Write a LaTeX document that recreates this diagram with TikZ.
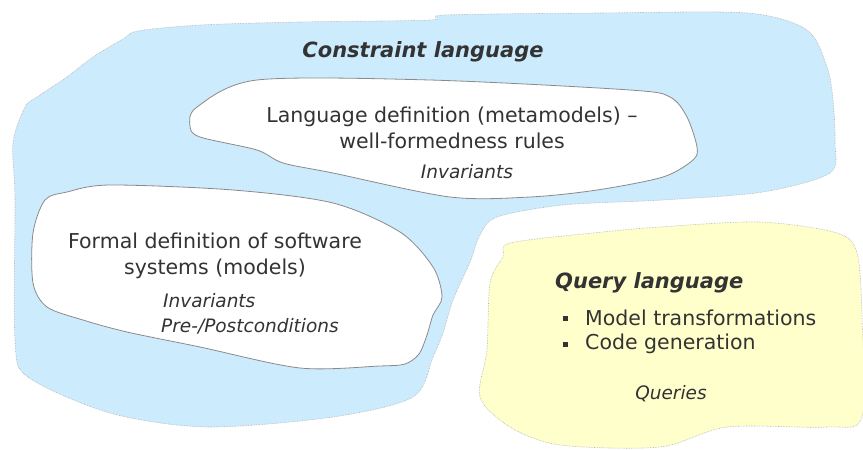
\documentclass[tikz,border=0pt]{standalone}
\usepackage{fontspec}
\setmainfont{DejaVu Sans}
\definecolor{skyfill}{HTML}{CCEBFD}
\definecolor{creamfill}{HTML}{FFFFCC}
\definecolor{edgegray}{HTML}{8A8A8A}
\definecolor{inkgray}{HTML}{333333}
\tikzset{
  region/.style={draw=edgegray!70, line width=0.6pt, densely dotted},
  island/.style={draw=edgegray, fill=white, line width=0.8pt},
  heading/.style={text=inkgray, font=\bfseries\itshape\fontsize{21}{26}\selectfont, inner sep=0pt},
  bodytext/.style={text=inkgray, font=\fontsize{20.5}{26}\selectfont, inner sep=0pt, align=center},
  note/.style={text=inkgray, font=\itshape\fontsize{18.5}{24}\selectfont, inner sep=0pt, align=left},
  bulletmark/.style={fill=inkgray, minimum size=5pt, inner sep=0pt},
}
\begin{document}
\begin{tikzpicture}[x=1pt,y=-1pt]
\useasboundingbox (0,0) rectangle (863,450);

% constraint language area
\def\skyoutline{(138,31) (200,25) (300,22) (430,20) (445,15) (600,13)
  (747,13) (807,30) (827,67) (833,100) (835,143) (830,173) (763,192)
  (663,200) (563,205) (497,217) (480,235) (470,262) (453,300) (443,333)
  (433,357) (413,397) (333,417) (207,427) (110,413) (28,377) (15,340)
  (15,200) (13,143) (25,107) (37,97) (67,77) (93,57) (123,39)}
\fill[skyfill] plot[smooth cycle, tension=0.5] coordinates {\skyoutline};
\draw[region] plot[smooth cycle, tension=0.5] coordinates {\skyoutline};

% query language area
\def\creamoutline{(510,243) (593,233) (660,227) (760,222) (837,233)
  (857,253) (862,317) (862,417) (827,427) (727,427) (660,447) (560,445)
  (510,427) (480,397) (487,350) (490,283) (503,257)}
\fill[creamfill] plot[smooth cycle, tension=0.5] coordinates {\creamoutline};
\draw[region] plot[smooth cycle, tension=0.5] coordinates {\creamoutline};

% metamodel island
\draw[island] plot[smooth cycle, tension=0.5] coordinates {
  (257,80) (430,80) (630,90) (670,97) (687,117) (697,147) (693,160)
  (663,177) (597,190) (530,197) (450,197) (333,173) (283,163) (257,150)
  (200,137) (190,126) (197,107)};

% model island
\draw[island] plot[smooth cycle, tension=0.5] coordinates {
  (45,200) (67,192) (110,185) (233,190) (333,203) (400,232) (433,267)
  (442,297) (433,315) (427,335) (419,354) (405,364) (380,366) (300,368)
  (200,347) (127,332) (83,320) (47,307) (33,283) (33,233)};

% labels
\node[heading] (clang) at (423,52) {Constraint language};
\node[bodytext] (meta) at (452,128) {Language definition (metamodels) –\\well-formedness rules};
\node[note] (metainv) at (467,172) {Invariants};
\node[bodytext] (models) at (215,256) {Formal definition of software\\systems (models)};
\node[note, anchor=west] (modinv) at (163,301) {Invariants};
\node[note, anchor=west] (modpre) at (161,326) {Pre-/Postconditions};
\node[heading, anchor=west] (qlang) at (555,283) {Query language};
\node[bulletmark] (bul1) at (565,318) {};
\node[bodytext, anchor=west] (qitem1) at (585,318) {Model transformations};
\node[bulletmark] (bul2) at (565,344) {};
\node[bodytext, anchor=west] (qitem2) at (585,344) {Code generation};
\node[note] (queries) at (671,394) {Queries};
\end{tikzpicture}
\end{document}
